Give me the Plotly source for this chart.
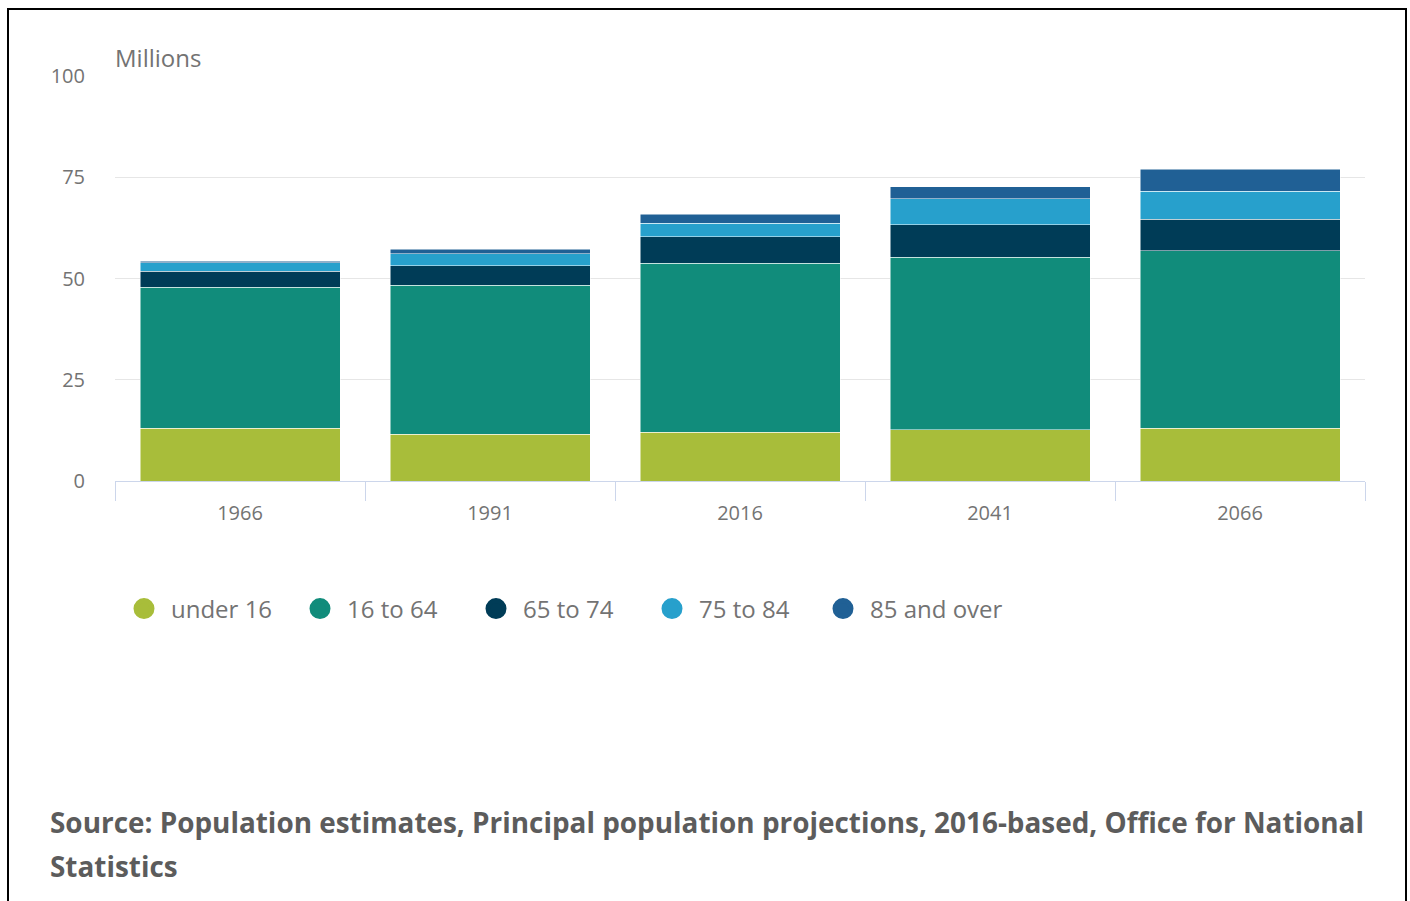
import plotly.graph_objects as go

years = ["1966", "1991", "2016", "2041", "2066"]
under_16 = [13.0, 11.5, 12.0, 12.6, 13.0]
age_16_64 = [34.8, 36.8, 41.8, 42.7, 43.8]
age_65_74 = [4.0, 4.9, 6.5, 8.0, 7.8]
age_75_84 = [2.1, 2.9, 3.4, 6.4, 7.0]
age_85_over = [0.4, 1.1, 2.2, 3.0, 5.4]

series_names = ["under 16", "16 to 64", "65 to 74", "75 to 84", "85 and over"]
series_values = [under_16, age_16_64, age_65_74, age_75_84, age_85_over]
colors = ["#a8bd3a", "#118c7b", "#003c57", "#27a0cc", "#206095"]
legend_ids = ["legend", "legend", "legend", "legend", "legend2"]

y_ticks = [0, 25, 50, 75, 100]

W, H = 1410, 901
L, R, T, B = 115, 45, 76, 420
PW = W - L - R
PH = H - T - B


def px_x(px):
    return (px - L) / PW


def px_y(py):
    return (H - B - py) / PH


fig = go.Figure()
for name, vals, col in zip(series_names, series_values, colors):
    fig.add_trace(go.Bar(
        x=years, y=vals, name=name, marker_color=col,
        marker_line_color="white", marker_line_width=0.5,
        showlegend=False, legendgroup=name, hoverinfo="x+y+name",
    ))
for name, col, lg in zip(series_names, colors, legend_ids):
    fig.add_trace(go.Scatter(
        x=[None], y=[None], mode="markers", name=name, legendgroup=name,
        legend=lg,
        marker=dict(symbol="circle", size=16, color=col,
                    line=dict(color=col, width=5)),
        showlegend=True,
    ))

font_family = "Open Sans"
tick_color = "#737373"
legend_font = dict(size=24, color=tick_color, family=font_family)

fig.update_layout(
    width=W, height=H,
    margin=dict(l=L, r=R, t=T, b=B, pad=0),
    paper_bgcolor="white", plot_bgcolor="white",
    barmode="stack", bargap=0.2,
    font=dict(family=font_family, color=tick_color, size=20),
    xaxis=dict(
        type="category", showgrid=False, showline=True,
        linecolor="#ccd6eb", linewidth=1,
        ticks="outside", tickson="boundaries", ticklen=19,
        tickcolor="#ccd6eb", tickwidth=1, ticklabelstandoff=14,
        tickfont=dict(size=20, color=tick_color, family=font_family),
        fixedrange=True,
    ),
    yaxis=dict(
        range=[0, 100], tickvals=y_ticks, showgrid=True,
        gridcolor="#e6e6e6", gridwidth=1, zeroline=False, showline=False,
        ticks="", ticklabelstandoff=29,
        tickfont=dict(size=20, color=tick_color, family=font_family),
        fixedrange=True,
    ),
    legend=dict(
        orientation="h", x=px_x(117), xanchor="left",
        y=px_y(609), yanchor="middle",
        itemwidth=44, entrywidth=117, entrywidthmode="pixels",
        font=legend_font, bgcolor="rgba(0,0,0,0)", traceorder="normal",
    ),
    legend2=dict(
        orientation="h", x=px_x(816), xanchor="left",
        y=px_y(609), yanchor="middle",
        itemwidth=44,
        font=legend_font, bgcolor="rgba(0,0,0,0)", traceorder="normal",
    ),
    annotations=[
        dict(text="Millions", xref="paper", yref="paper", x=px_x(113), y=1,
             xanchor="left", yanchor="bottom", showarrow=False,
             font=dict(size=24, color=tick_color, family=font_family)),
        dict(text="<b>Source: Population estimates, Principal population projections, 2016-based, Office for National</b>",
             xref="paper", yref="paper", x=px_x(48), y=px_y(822),
             xanchor="left", yanchor="middle", showarrow=False,
             font=dict(size=27.9, color="#5c5c5c", family=font_family)),
        dict(text="<b>Statistics</b>",
             xref="paper", yref="paper", x=px_x(48), y=px_y(866),
             xanchor="left", yanchor="middle", showarrow=False,
             font=dict(size=27.9, color="#5c5c5c", family=font_family)),
    ],
    shapes=[
        dict(type="rect", xref="paper", yref="paper",
             x0=px_x(8), x1=px_x(1406), y0=px_y(910), y1=px_y(9),
             line=dict(color="black", width=2), fillcolor="rgba(0,0,0,0)",
             layer="above"),
    ],
)

fig.write_html("out.html")
